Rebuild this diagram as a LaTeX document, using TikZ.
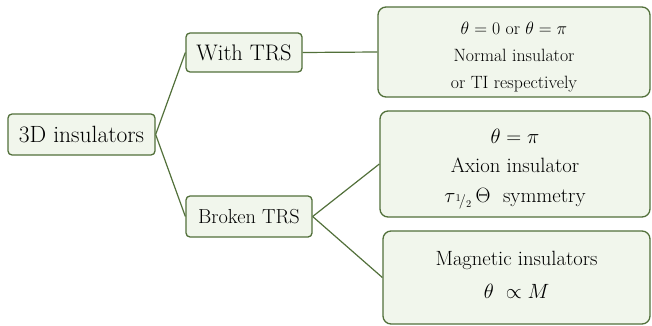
\RequirePackage{fix-cm}
\documentclass[tikz,border=0pt]{standalone}
\definecolor{edgegreen}{HTML}{52703A}
\definecolor{boxfill}{HTML}{F1F6EC}
\begin{document}
\begin{tikzpicture}[x=1pt,y=-1pt,
  box/.style={draw=edgegreen, fill=boxfill, line width=1.3pt, rounded corners=4pt, inner sep=0pt, align=center},
  bigbox/.style={box, rounded corners=8pt},
  txt/.style={inner sep=0pt, align=center},
  link/.style={draw=edgegreen, line width=1.2pt}]
\useasboundingbox (0,0) rectangle (652,326);
\node[box, minimum width=147pt, minimum height=41pt, font=\fontsize{23.5}{28}\selectfont] (root) at (81.5,134.5) {3D insulators};
\node[box, minimum width=116pt, minimum height=39pt, font=\fontsize{22.5}{28}\selectfont] (with) at (244,52.5) {With TRS};
\node[box, minimum width=126pt, minimum height=41pt, font=\fontsize{20.3}{26}\selectfont] (broken) at (249,216.5) {Broken TRS};
\node[bigbox, minimum width=272pt, minimum height=90pt] (b1) at (514,52) {};
\node[txt, font=\fontsize{17.8}{27}\selectfont] (b1t) at ([yshift=-5pt]b1.center)
  {$\theta = 0$ or $\theta = \pi$\\ Normal insulator\\ or TI respectively};
\node[bigbox, minimum width=270pt, minimum height=106pt] (b2) at (515,164) {};
\node[txt, font=\fontsize{20.7}{29.5}\selectfont] (b2t) at ([yshift=-5pt]b2.center)
  {$\theta = \pi$\\ Axion insulator\\ $\tau_{\,{}^{1}\!/_{2}}\,\Theta$\ \ symmetry};
\node[bigbox, minimum width=267pt, minimum height=93pt] (b3) at (516.5,277.5) {};
\node[txt, font=\fontsize{20.6}{33}\selectfont] (b3t) at ([yshift=2.5pt]b3.center)
  {Magnetic insulators\\ $\theta\ \propto M$};
\draw[link] (root.east) -- (with.west);
\draw[link] (root.east) -- (broken.west);
\draw[link] (with.east) -- (b1.west);
\draw[link] (broken.east) -- (b2.west);
\draw[link] (broken.east) -- (b3.west);
\end{tikzpicture}
\end{document}
